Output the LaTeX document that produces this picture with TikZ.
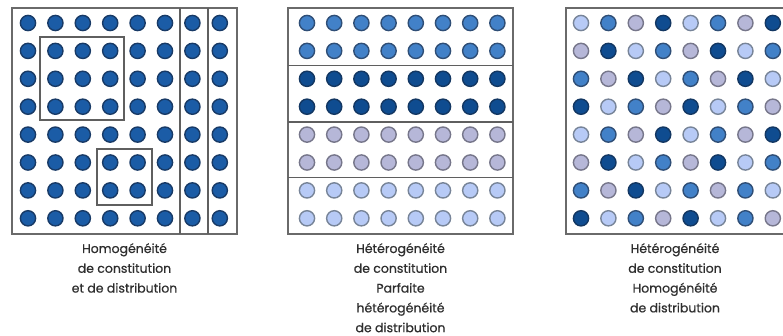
\documentclass[tikz,border=0pt]{standalone}
\usepackage{fontspec}
\setmainfont{Poppins}[FakeBold=0.6]
\definecolor{boxgray}{HTML}{6A6A6A}
\definecolor{txtgray}{HTML}{2E2E2E}
\definecolor{dkfill}{HTML}{1B5CA6}
\definecolor{dkdraw}{HTML}{183A66}
\definecolor{mfill}{HTML}{4281C8}
\definecolor{mdraw}{HTML}{2F4E76}
\definecolor{dfill}{HTML}{0F4C90}
\definecolor{ddraw}{HTML}{133762}
\definecolor{gfill}{HTML}{B6B7D8}
\definecolor{gdraw}{HTML}{76768A}
\definecolor{lfill}{HTML}{B7CAF6}
\definecolor{ldraw}{HTML}{778498}
\tikzset{
  panelbox/.style={draw=boxgray, line width=1.8pt},
  divline/.style={draw=boxgray!90!black, line width=1.4pt},
  dotK/.style={fill=dkfill, draw=dkdraw, line width=1.4pt},
  dotM/.style={fill=mfill, draw=mdraw, line width=1.4pt},
  dotD/.style={fill=dfill, draw=ddraw, line width=1.4pt},
  dotG/.style={fill=gfill, draw=gdraw, line width=1.4pt},
  dotL/.style={fill=lfill, draw=ldraw, line width=1.4pt},
  caption/.style={align=center, anchor=north, inner sep=0pt, text=txtgray,
    font=\fontsize{12.5}{19.8}\selectfont}
}
\begin{document}
\begin{tikzpicture}[x=1pt,y=-1pt]
\useasboundingbox (0,0) rectangle (783,336);
\fill[white] (0,0) rectangle (783,336);
% ---------- panel 1 ----------
\foreach \r in {0,...,7}{
  \foreach \c in {0,...,7}{
    \path[dotK] ({28+27.4*\c},{23+27.9*\r}) circle (7.6);
  }
}
\draw[panelbox] (12,8) rectangle (237,234);
\draw[divline] (180,8) -- (180,234);
\draw[divline] (208,8) -- (208,234);
\draw[divline] (40,37) rectangle (124,120);
\draw[divline] (97,149) rectangle (152,205);
% ---------- panel 2 ----------
\foreach \r/\s in {0/M,1/M,2/D,3/D,4/G,5/G,6/L,7/L}{
  \foreach \c in {0,...,7}{
    \path[dot\s] ({307+27.2*\c},{23+27.9*\r}) circle (7.6);
  }
}
\draw[panelbox] (288,8) rectangle (513,234);
\draw[divline] (288,65.5) -- (513,65.5);
\draw[divline] (288,122) -- (513,122);
\draw[divline] (288,177.5) -- (513,177.5);
% ---------- panel 3 ----------
\foreach \r/\lst in {0/{L,M,G,D,L,M,G,D},1/{G,D,L,M,G,D,L,M},2/{M,G,D,L,M,G,D,L},3/{D,L,M,G,D,L,M,G},
                     4/{L,M,G,D,L,M,G,D},5/{G,D,L,M,G,D,L,M},6/{M,G,D,L,M,G,M,L},7/{D,L,M,G,D,L,M,G}}{
  \foreach \s [count=\c from 0] in \lst {
    \path[dot\s] ({581+27.4*\c},{23+27.9*\r}) circle (7.6);
  }
}
\draw[panelbox] (566,8) rectangle (791,234);
% ---------- captions ----------
\node[caption] (cap1) at (124.5,243) {Homogénéité\\de constitution\\et de distribution};
\node[caption] (cap2) at (400.5,243) {Hétérogénéité\\de constitution\\Parfaite\\hétérogénéité\\de distribution};
\node[caption] (cap3) at (675,243) {Hétérogénéité\\de constitution\\Homogénéité\\de distribution};
\end{tikzpicture}
\end{document}
